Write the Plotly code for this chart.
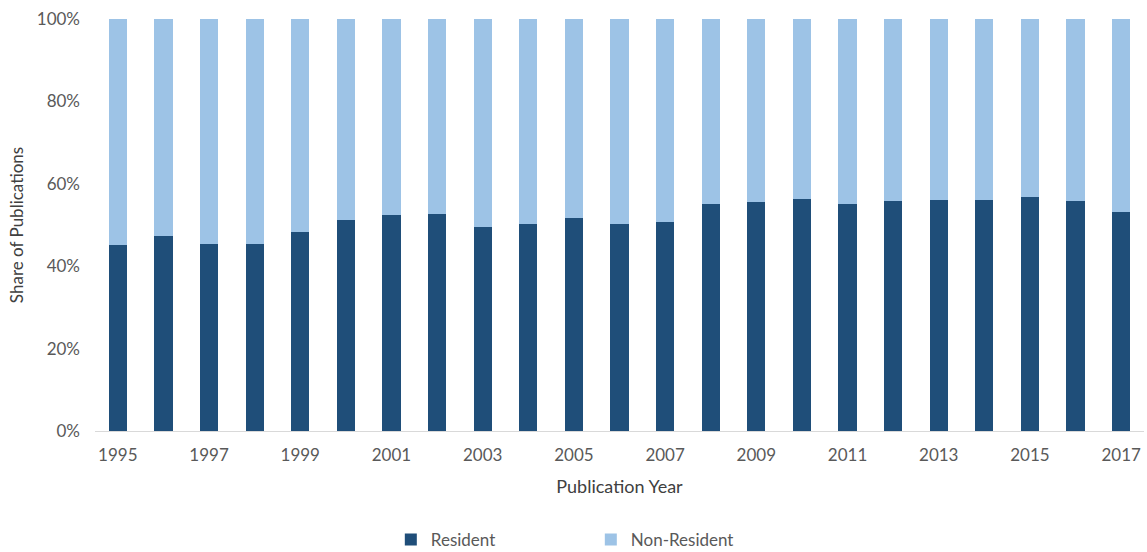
import plotly.graph_objects as go

# Publication years and share (%) of publications by author residency
years = [str(y) for y in range(1995, 2018)]
resident = [45.1, 47.3, 45.4, 45.4, 48.3, 51.2, 52.4, 52.7, 49.4, 50.2, 51.7, 50.3,
            50.7, 55.0, 55.6, 56.4, 55.0, 55.8, 56.1, 56.1, 56.8, 55.8, 53.2]
non_resident = [54.9, 52.7, 54.6, 54.6, 51.7, 48.8, 47.6, 47.3, 50.6, 49.8, 48.3, 49.7,
                49.3, 45.0, 44.4, 43.6, 45.0, 44.2, 43.9, 43.9, 43.2, 44.2, 46.8]
year_ticks = years[::2]
pct_ticks = [0, 20, 40, 60, 80, 100]
pct_labels = ["0%", "20%", "40%", "60%", "80%", "100%"]

DARK = "#1F4E79"
LIGHT = "#9DC3E6"
TEXT = "#595959"
FONT = "Lato"

fig = go.Figure()
fig.add_trace(go.Bar(x=years, y=resident, name="Resident", marker_color=DARK,
                     marker_line_width=0))
fig.add_trace(go.Bar(x=years, y=non_resident, name="Non-Resident", marker_color=LIGHT,
                     marker_line_width=0))

fig.update_layout(
    barmode="stack",
    bargap=0.6,
    width=1147,
    height=552,
    margin=dict(l=95, r=3, t=19, b=121, autoexpand=False),
    plot_bgcolor="white",
    paper_bgcolor="white",
    font=dict(family=FONT, size=17, color=TEXT),
    legend=dict(
        orientation="h",
        x=0.282, xanchor="left",
        y=-0.2646, yanchor="middle",
        font=dict(size=17, color=TEXT),
        entrywidth=155,
        itemwidth=30,
        traceorder="normal",
    ),
)

fig.update_xaxes(
    type="category",
    tickmode="array",
    tickvals=year_ticks,
    ticktext=year_ticks,
    showline=True,
    linecolor="#D9D9D9",
    linewidth=1,
    showgrid=False,
    ticks="",
    ticklabelstandoff=9,
    automargin=False,
    title=dict(text="Publication Year", standoff=15, font=dict(size=18, color="#404040")),
    tickfont=dict(size=17, color=TEXT),
)

fig.update_yaxes(
    range=[0, 100],
    tickmode="array",
    tickvals=pct_ticks,
    ticktext=pct_labels,
    showgrid=False,
    showline=False,
    zeroline=False,
    ticks="",
    ticklabelstandoff=14,
    automargin=False,
    title=dict(text="Share of Publications", standoff=8, font=dict(size=17, color="#404040")),
    tickfont=dict(size=17, color=TEXT),
)

fig.write_html("out.html")
